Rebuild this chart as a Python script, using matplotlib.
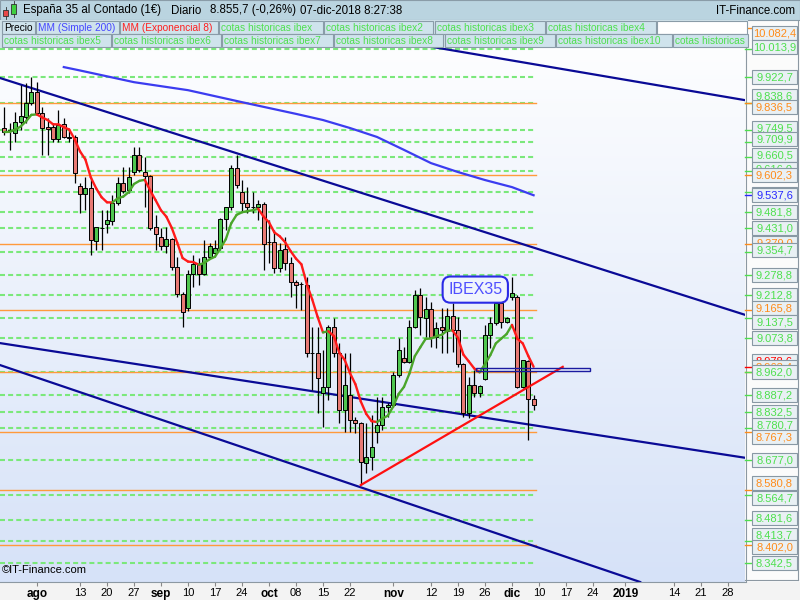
import numpy as np
import pandas as pd
import matplotlib
matplotlib.use("Agg")
import matplotlib.pyplot as plt
from matplotlib.patches import Rectangle
from matplotlib.lines import Line2D
from matplotlib.collections import LineCollection
from matplotlib.colors import LinearSegmentedColormap
from matplotlib.transforms import Bbox

plt.rcParams['font.family'] = ['Liberation Sans', 'DejaVu Sans']

# IBEX 35 daily candles, 24-jul-2018 .. 07-dic-2018
opens = [9756, 9750, 9740, 9776, 9792, 9837, 9873, 9805, 9759, 9759,
         9720, 9769, 9727, 9727, 9568, 9542, 9561, 9389, 9431, 9444,
         9454, 9512, 9577, 9555, 9613, 9668, 9613, 9600, 9434, 9402,
         9373, 9395, 9304, 9217, 9171, 9282, 9314, 9282, 9337, 9350,
         9366, 9460, 9499, 9626, 9548, 9512, 9499, 9499, 9509, 9386,
         9386, 9301, 9363, 9317, 9256, 9249, 9246, 9025, 9025, 8895,
         8915, 9109, 9025, 8840, 8889, 8807, 8798, 8668, 8687, 8768,
         8791, 8850, 8856, 8954, 9009, 8996, 9109, 9213, 9139, 9168,
         9077, 9109, 9096, 9145, 9100, 8989, 8830, 8921, 8895, 8941,
         9083, 9122, 9187, 9126, 9207, 9207, 8915, 8999, 8876]
highs = [9824, 9772, 9808, 9896, 9902, 9922, 9906, 9824, 9789, 9772,
         9815, 9789, 9750, 9733, 9577, 9597, 9597, 9434, 9490, 9490,
         9538, 9597, 9629, 9629, 9694, 9694, 9662, 9603, 9473, 9431,
         9434, 9399, 9337, 9223, 9295, 9343, 9334, 9392, 9382, 9392,
         9464, 9499, 9636, 9668, 9587, 9564, 9548, 9522, 9516, 9457,
         9425, 9382, 9402, 9337, 9262, 9256, 9272, 9109, 9109, 9035,
         9116, 9139, 9057, 9025, 9025, 8817, 8801, 8798, 8824, 8882,
         8882, 8863, 8963, 9074, 9044, 9132, 9230, 9236, 9207, 9191,
         9126, 9171, 9171, 9187, 9142, 8993, 8947, 8970, 8921, 9116,
         9142, 9207, 9207, 9142, 9272, 9213, 9002, 9002, 8889]
lows = [9733, 9685, 9711, 9750, 9772, 9831, 9798, 9668, 9668, 9711,
        9711, 9724, 9711, 9577, 9480, 9490, 9343, 9360, 9360, 9415,
        9441, 9506, 9545, 9545, 9603, 9613, 9499, 9425, 9360, 9360,
        9350, 9295, 9207, 9109, 9161, 9239, 9246, 9278, 9334, 9343,
        9360, 9425, 9490, 9561, 9483, 9480, 9480, 9457, 9295, 9317,
        9285, 9288, 9295, 9207, 9171, 9165, 9012, 8905, 8830, 8785,
        8872, 9012, 8798, 8768, 8768, 8765, 8596, 8635, 8645, 8733,
        8775, 8817, 8850, 8947, 8993, 8993, 9106, 9083, 9077, 9044,
        9041, 9025, 9025, 9028, 8980, 8817, 8814, 8882, 8882, 8937,
        9041, 9116, 9106, 9122, 9197, 8911, 8911, 8742, 8840]
closes = [9743, 9746, 9776, 9795, 9837, 9873, 9805, 9756, 9753, 9720,
          9766, 9727, 9725, 9610, 9542, 9561, 9392, 9434, 9431, 9457,
          9512, 9577, 9551, 9597, 9668, 9620, 9600, 9431, 9412, 9373,
          9395, 9304, 9217, 9158, 9282, 9314, 9282, 9337, 9373, 9366,
          9460, 9499, 9626, 9571, 9512, 9499, 9499, 9509, 9379, 9386,
          9301, 9360, 9317, 9256, 9246, 9249, 9025, 9025, 8944, 8915,
          9109, 9025, 8840, 8921, 8807, 8798, 8671, 8687, 8720, 8791,
          8850, 8856, 8954, 9035, 8996, 9109, 9213, 9142, 9168, 9077,
          9106, 9100, 9145, 9100, 8989, 8830, 8921, 8895, 8918, 9083,
          9122, 9187, 9126, 9139, 9220, 8915, 9002, 8876, 8855.7]

# MM simple 200
sma_dates = ['2018-08-08', '2018-08-13', '2018-08-27', '2018-09-10', '2018-09-24',
             '2018-10-01', '2018-10-08', '2018-10-15', '2018-10-22', '2018-10-29',
             '2018-11-05', '2018-11-12', '2018-11-19', '2018-11-26', '2018-12-03',
             '2018-12-07']
sma_values = [9954, 9943, 9905, 9879, 9840, 9821, 9802, 9782, 9756, 9727,
              9685, 9642, 9613, 9587, 9564, 9537.6]

# horizontal levels ("cotas historicas")
green_levels = [10013.9, 9922.7, 9838.6, 9749.5, 9709.9, 9660.5, 9616.0, 9549.0,
                9481.8, 9431.0, 9354.7, 9278.8, 9212.8, 9137.5, 9073.8, 8962.0,
                8887.2, 8832.5, 8780.7, 8677.0, 8564.7, 8481.6, 8413.7, 8342.5]
orange_levels = [10082.4, 9836.5, 9602.3, 9379.0, 9165.8, 8963.4, 8767.3, 8580.8, 8402.0]

# trend lines: (day index, price) pairs
channel_lines = [((59, 10080), (134, 9856)),
                 ((0, 9914), (130, 9189)),
                 ((0, 9055), (130, 8704)),
                 ((0, 8981), (110, 8327))]
support_line = ((66, 8596), (103.4, 8980))
zone_box = (87.3, 108.4, 8967, 8975)

tick_dates = ['2018-08-01', '2018-08-13', '2018-08-20', '2018-08-27', '2018-09-03',
              '2018-09-10', '2018-09-17', '2018-09-24', '2018-10-01', '2018-10-08',
              '2018-10-15', '2018-10-22', '2018-11-01', '2018-11-12', '2018-11-19',
              '2018-11-26', '2018-12-03', '2018-12-10', '2018-12-17', '2018-12-24',
              '2019-01-01', '2019-01-14', '2019-01-21', '2019-01-28']
tick_labels = ['ago', '13', '20', '27', 'sep', '10', '17', '24', 'oct', '08', '15', '22',
               'nov', '12', '19', '26', 'dic', '10', '17', '24', '2019', '14', '21', '28']
month_labels = {'ago', 'sep', 'oct', 'nov', 'dic', '2019'}

GREEN_TXT = '#4ee04e'
ORANGE = '#ff8c1a'

days = pd.bdate_range('2018-07-24', '2019-02-15')
n = len(closes)
x = np.arange(n)
sma_x = [days.get_loc(pd.Timestamp(d)) for d in sma_dates]
tick_x = [days.get_loc(pd.Timestamp(d)) for d in tick_dates]

W, H = 800, 600
fig = plt.figure(figsize=(8, 6), dpi=100)
fig.patch.set_facecolor('white')


def fbox(x0, y0, x1, y1, z=1, **kw):
    fig.add_artist(Rectangle((x0 / W, 1 - y1 / H), (x1 - x0) / W, (y1 - y0) / H,
                             transform=fig.transFigure, zorder=z, **kw))


def ftext(px, py, s, **kw):
    return fig.text(px / W, 1 - py / H, s, **kw)


def fline(xs, ys, z=2, **kw):
    fig.add_artist(Line2D([v / W for v in xs], [1 - v / H for v in ys],
                          transform=fig.transFigure, zorder=z, **kw))


ax = fig.add_axes([0, 18 / H, 745 / W, 562 / H])
xlim = (-0.815, 137.15)
ylim = (8281, 10107)
ax.set_xlim(*xlim)
ax.set_ylim(*ylim)

# background gradient
cmap = LinearSegmentedColormap.from_list('bg', ['#ffffff', '#d6e2f8'])
ax.imshow(np.linspace(0, 1, 256).reshape(-1, 1), extent=[*xlim, *ylim], cmap=cmap,
          aspect='auto', zorder=0)

# levels
line_end = n - 0.5
for lv in green_levels:
    ax.plot([xlim[0], line_end], [lv, lv], color='#7be87b', lw=1.5,
            linestyle=(0, (2.4, 1.5)), zorder=1)
for lv in orange_levels:
    ax.plot([xlim[0], line_end], [lv, lv], color='#ff9a3c', lw=1.0, zorder=1.5)

# SMA 200
ax.plot(sma_x, sma_values, color='#3c3cf0', lw=1.6, zorder=2)

# channels
for p1, p2 in channel_lines:
    ax.axline(p1, p2, color='#0a0a96', lw=1.6, zorder=2.5)

# candles
ax.vlines(x, lows, highs, color='black', lw=0.9, zorder=3)
o = np.array(opens, float)
c = np.array(closes, float)
up = c >= o
body_col = np.where(up, '#4fc64f', '#e87a74')
ax.bar(x, np.abs(c - o), bottom=np.minimum(o, c), width=0.72, color=body_col,
       edgecolor='black', linewidth=0.7, zorder=4)

# EMA 8
ema = pd.Series(closes).ewm(span=8, adjust=False).mean().values
segs = [[(i - 1, ema[i - 1]), (i, ema[i])] for i in range(1, n)]
seg_cols = ['#4aa52a' if ema[i] >= ema[i - 1] else '#ff1a1a' for i in range(1, n)]
ax.add_collection(LineCollection(segs, colors=seg_cols, linewidths=1.7, zorder=5,
                                 capstyle='round'))

# drawings
ax.plot([support_line[0][0], support_line[1][0]], [support_line[0][1], support_line[1][1]],
        color='#ff1010', lw=1.6, zorder=6)
ax.add_patch(Rectangle((zone_box[0], zone_box[2]), zone_box[1] - zone_box[0],
                       zone_box[3] - zone_box[2], fill=False, ec='#1a1aa0', lw=1, zorder=6))
ax.text(87.2, 9231, 'IBEX35', ha='center', va='center', fontsize=11.5, color='#5050ff',
        bbox=dict(boxstyle='round,pad=0.35,rounding_size=0.5', fc='#f0f4fc',
                  ec='#2a2ae6', lw=1.5), zorder=7)

for s in ax.spines.values():
    s.set_visible(False)
ax.set_yticks([])
ax.set_xticks(tick_x)
ax.set_xticklabels(tick_labels)
ax.tick_params(axis='x', direction='out', length=3, width=0.8, color='#888888',
               labelcolor='black', labelsize=8, pad=1)
for t in ax.get_xticklabels():
    if t.get_text() in month_labels:
        t.set_fontweight('bold')
        t.set_fontsize(8.5)

ax.text(0.003, 0.012, '\u00a9IT-Finance.com', transform=ax.transAxes, fontsize=8,
        ha='left', va='bottom', zorder=8)

# bottom strip and right panel
fbox(0, 582, 800, 600, z=-1, fc='#f3f3f3', ec='none')
fbox(745, 20, 800, 582, z=0.5, fc='#fbfbfb', ec='none')
fline([0, 745], [582, 582], color='#8c98a2', lw=0.8)
fline([745.5, 745.5], [20, 582], color='#8c98a2', lw=0.8)
fline([797.5, 797.5], [20, 580], color='#8c98a2', lw=0.8)
fline([745, 797.5], [580, 580], color='#8c98a2', lw=0.8)

# price labels (value, colour, label centre px)
label_colors = {'g': GREEN_TXT, 'o': ORANGE, 'b': '#2828ff', 'r': '#ff0000'}
price_tags = [(10082.4, 'o', 33.3), (10013.9, 'g', 47.3), (9922.7, 'g', 76.7),
              (9838.6, 'g', 96), (9836.5, 'o', 107.3), (9749.5, 'g', 127.7),
              (9709.9, 'g', 139.3), (9660.5, 'g', 155), (9616.0, 'g', 169),
              (9602.3, 'o', 175), (9549.0, 'g', 194), (9537.6, 'b', 195),
              (9481.8, 'g', 211.7), (9431.0, 'g', 228.3), (9379.0, 'o', 242.7),
              (9354.7, 'g', 250), (9278.8, 'g', 275), (9212.8, 'g', 295),
              (9165.8, 'o', 308), (9137.5, 'g', 321.7), (9073.8, 'g', 338.3),
              (8978.6, 'r', 360.7), (8963.4, 'o', 366.7), (8962.0, 'g', 371.7),
              (8887.2, 'g', 395), (8832.5, 'g', 411.7), (8780.7, 'g', 425),
              (8767.3, 'o', 436.7), (8677.0, 'g', 460), (8580.8, 'o', 483.3),
              (8564.7, 'g', 498.3), (8481.6, 'g', 518.3), (8413.7, 'g', 535),
              (8402.0, 'o', 546.7), (8342.5, 'g', 563.3)]


def es_fmt(v):
    return f'{v:,.1f}'.replace(',', 'X').replace('.', ',').replace('X', '.')


def price_to_px(v):
    return 20 + (ylim[1] - v) / (ylim[1] - ylim[0]) * 562


for i, (v, ck, ly) in enumerate(price_tags):
    col = label_colors[ck]
    ty = price_to_px(v)
    fline([745, 751], [ty, ty], z=2 + i * 0.01, color=col, lw=1)
    fbox(752, ly - 7, 797, ly + 7, z=3 + i * 0.01, fc='#e9f0f4', ec='#8898a4', lw=0.8)
    ftext(774.5, ly + 0.5, es_fmt(v), ha='center', va='center', fontsize=8, color=col,
          zorder=3.005 + i * 0.01)

# header
fbox(0, 0, 800, 20, z=4, fc='#bad4e0', ec='#8a9ca8', lw=0.8)
fbox(3, 10, 8, 16, z=4.1, fc='#e84848', ec='#303030', lw=0.6)
fline([5.5, 5.5], [7, 19], z=4.05, color='#303030', lw=0.6)
fbox(11, 4, 16, 14, z=4.1, fc='#40d040', ec='#303030', lw=0.6)
fline([13.5, 13.5], [1, 17], z=4.05, color='#303030', lw=0.6)
ftext(23, 10.5, 'Espa\u00f1a 35 al Contado (1\u20ac)', fontsize=8.3, va='center', zorder=5)
ftext(171, 10.5, 'Diario', fontsize=8.3, va='center', zorder=5)
ftext(210, 10.5, '8.855,7 (-0,26%)', fontsize=8.3, va='center', zorder=5)
ftext(300, 10.5, '07-dic-2018 8:27:38', fontsize=8.3, va='center', zorder=5)
ftext(795, 10.5, 'IT-Finance.com', fontsize=8.3, va='center', ha='right', zorder=5)

# legend rows
legend_row1 = [(2, 35, 'Precio', 'black'), (36, 119, 'MM (Simple 200)', '#4646ff'),
               (120, 218, 'MM (Exponencial 8)', '#ff2020'),
               (219, 323, 'cotas historicas ibex', GREEN_TXT),
               (324, 433, 'cotas historicas ibex2', GREEN_TXT),
               (435, 545, 'cotas historicas ibex3', GREEN_TXT),
               (546, 656, 'cotas historicas ibex4', GREEN_TXT)]
legend_row2 = [(2, 111, 'cotas historicas ibex5', GREEN_TXT),
               (112, 221, 'cotas historicas ibex6', GREEN_TXT),
               (222, 333, 'cotas historicas ibex7', GREEN_TXT),
               (334, 443, 'cotas historicas ibex8', GREEN_TXT),
               (445, 555, 'cotas historicas ibex9', GREEN_TXT),
               (556, 672, 'cotas historicas ibex10', GREEN_TXT),
               (673, 748, 'cotas historicas ibex11', GREEN_TXT)]
fbox(0, 20, 748, 34, z=4, fc='#d0e2ea', ec='none')
fbox(0, 34, 748, 48, z=4, fc='#d0e2ea', ec='none')
fbox(657, 21, 747, 33.5, z=4.2, fc='white', ec='#8a9ca8', lw=0.8)
for row, (y0, y1) in ((legend_row1, (21, 33.5)), (legend_row2, (34.5, 47))):
    for x0, x1, label, col in row:
        fbox(x0, y0, x1, y1, z=4.2, fc='#cfe3ec', ec='#8a9ca8', lw=0.8)
        t = ftext(x0 + 2, (y0 + y1) / 2 + 0.5, label, fontsize=7.3, color=col,
                  va='center', zorder=4.5)
        t.set_clip_box(Bbox([[x0, H - y1], [x1 - 1, H - y0]]))
        t.set_clip_on(True)

fig.savefig('out.png', dpi=100)
